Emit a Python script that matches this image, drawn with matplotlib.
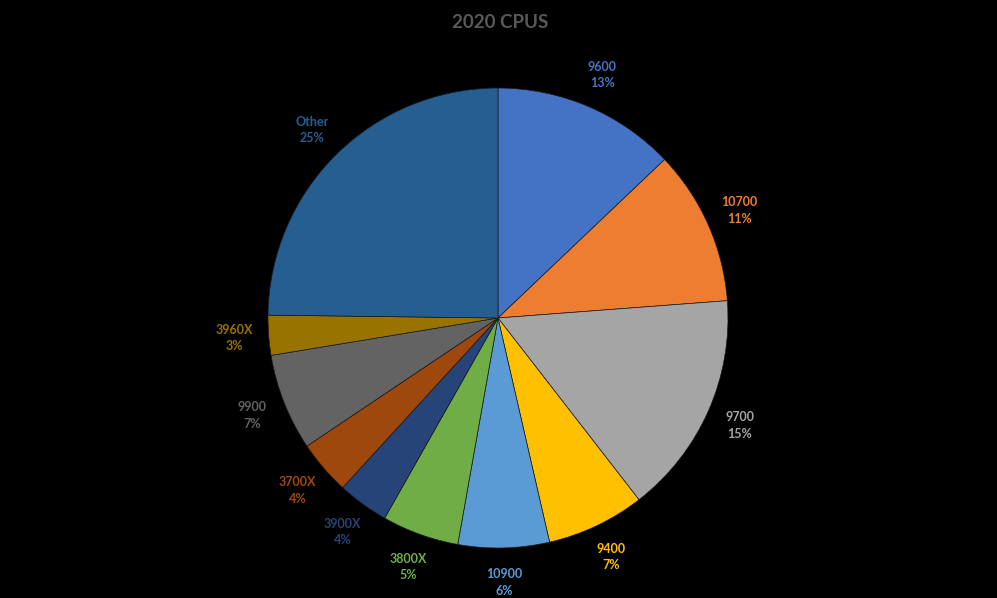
import matplotlib.pyplot as plt

labels = ['9600', '10700', '9700', '9400', '10900', '3800X', '3900X', '3700X', '9900', '3960X', 'Other']
shares = [12.9, 10.9, 15.7, 6.9, 6.4, 5.4, 3.6, 3.8, 6.8, 2.8, 24.8]
pct_text = ['13%', '11%', '15%', '7%', '6%', '5%', '4%', '4%', '7%', '3%', '25%']
colors = ['#4472C4', '#ED7D31', '#A5A5A5', '#FFC000', '#5B9BD5', '#70AD47',
          '#264478', '#9E480E', '#636363', '#997300', '#255E91']

plt.rcParams['font.family'] = ['Lato', 'DejaVu Sans']

fig = plt.figure(figsize=(9.97, 5.98), dpi=100, facecolor='black')
# pie centre at (498, 318) px, radius 230 px
lim = 1.3
half = 230 * lim
ax = fig.add_axes([(498 - half) / 997, (598 - 318 - half) / 598, 2 * half / 997, 2 * half / 598])
ax.set_facecolor('black')

wedges, texts = ax.pie(shares, colors=colors, startangle=90, counterclock=False,
                       labels=[l + '\n' + p for l, p in zip(labels, pct_text)],
                       labeldistance=1.15,
                       wedgeprops=dict(edgecolor='#1a1a1a', linewidth=0.5))
for t, c in zip(texts, colors):
    t.set_color(c)
    t.set_fontsize(9)
    t.set_fontweight('bold')
    t.set_ha('center')
    t.set_va('center')
    t.set_linespacing(1.45)

ax.set_xlim(-lim, lim)
ax.set_ylim(-lim, lim)
ax.set_aspect('equal')
ax.axis('off')

fig.text(500 / 997, 1 - 22 / 598, '2020 CPUS', color='#595959', fontsize=13.5,
         fontweight='bold', ha='center', va='center')

plt.savefig('out.png', dpi=100, facecolor='black')
